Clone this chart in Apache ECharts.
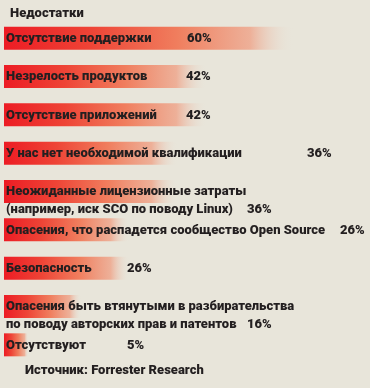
<!DOCTYPE html>
<html><head><meta charset="utf-8">
<script src="https://cdn.jsdelivr.net/npm/echarts@6/dist/echarts.min.js"></script>
<style>html,body{margin:0;padding:0;background:#e8e5da;}#c{width:370px;height:388px;}</style>
</head><body><div id="c"></div>
<script>
const title = 'Недостатки';
const source = 'Источник: Forrester Research';
const categories = [
  'Отсутствие поддержки',
  'Незрелость продуктов',
  'Отсутствие приложений',
  'У нас нет необходимой квалификации',
  'Неожиданные лицензионные затраты\n(например, иск SCO по поводу Linux)',
  'Опасения, что распадется сообщество Open Source',
  'Безопасность',
  'Опасения быть втянутыми в разбирательства\nпо поводу авторских прав и патентов',
  'Отсутствуют'
];
const values = [60, 42, 42, 36, 36, 26, 26, 16, 5];

// layout: x (px) where each percent label starts
const pctX = [187, 186, 186, 307, 247, 340, 127, 247, 127];

const FONT = 'Roboto';
const labelStartX = 6;
const gridLeft = 4;

const chart = echarts.init(document.getElementById('c'), null, {renderer: 'canvas'});
const grad = new echarts.graphic.LinearGradient(0, 0, 1, 0, [
  {offset: 0, color: '#ec1c24'},
  {offset: 0.3, color: '#ee4436'},
  {offset: 0.6, color: '#f07e5e'},
  {offset: 0.85, color: 'rgba(238,170,145,0.9)'},
  {offset: 1, color: 'rgba(232,229,218,0)'}
]);

const txt = {fontFamily: FONT, fontWeight: 900, fontSize: 13, color: '#231f20', lineHeight: 18};

const data = values.map((v, i) => ({
  value: v,
  label: {
    rich: {
      n: Object.assign({width: pctX[i] - labelStartX}, txt),
      v: Object.assign({}, txt)
    }
  }
}));

chart.setOption({
  backgroundColor: '#e8e5da',
  animation: false,
  title: [
    {text: title, left: 5, top: 2, textStyle: {fontFamily: FONT, fontWeight: 900, fontSize: 13, color: '#231f20'}},
    {text: source, left: 20, top: 359, textStyle: {fontFamily: FONT, fontWeight: 900, fontSize: 13, color: '#231f20'}}
  ],
  grid: {left: gridLeft, right: 4, top: 19, height: 345},
  xAxis: {type: 'value', min: 0, max: 75, show: false},
  yAxis: {type: 'category', data: categories, inverse: true, show: false},
  series: [{
    type: 'bar',
    data: data,
    barWidth: 23,
    itemStyle: {color: grad},
    label: {
      show: true,
      position: [labelStartX - gridLeft, 3],
      verticalAlign: 'top',
      align: 'left',
      formatter: function (p) {
        const lines = categories[p.dataIndex].split('\n');
        return lines.map((l, k) => '{n|' + l + '}' + (k === lines.length - 1 ? '{v|' + values[p.dataIndex] + '%}' : '')).join('\n');
      }
    }
  }]
});
</script>
</body></html>
